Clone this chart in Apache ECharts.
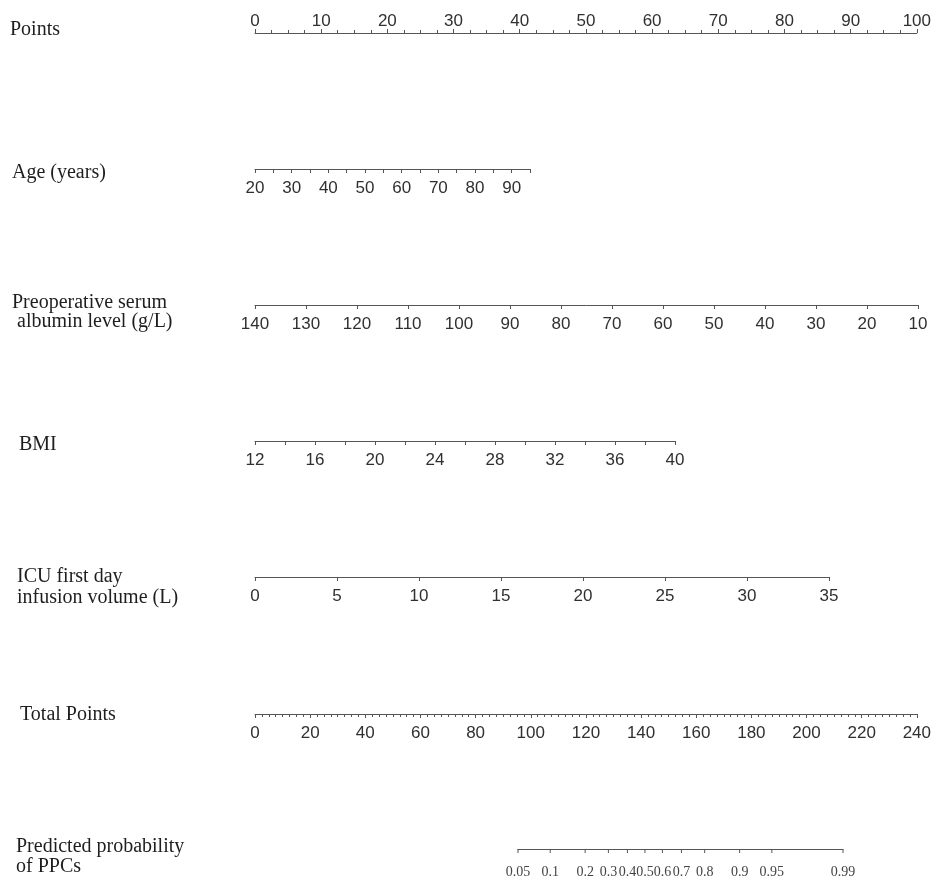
<!DOCTYPE html>
<html>
<head>
<meta charset="utf-8">
<script src="https://cdn.jsdelivr.net/npm/echarts@6/dist/echarts.min.js"></script>
<style>
  html, body { margin: 0; padding: 0; background: #ffffff; }
  #chart { width: 934px; height: 879px; }
</style>
</head>
<body>
<div id="chart"></div>
<script>
// ---- Nomogram scales ----
const pointsRange = [0, 100];
const pointsLabels = [0, 10, 20, 30, 40, 50, 60, 70, 80, 90, 100];

const ageRange = [20, 95];
const ageLabels = [20, 30, 40, 50, 60, 70, 80, 90];

const albuminRange = [10, 140];
const albuminLabels = [140, 130, 120, 110, 100, 90, 80, 70, 60, 50, 40, 30, 20, 10];

const bmiRange = [12, 40];
const bmiLabels = [12, 16, 20, 24, 28, 32, 36, 40];

const infusionRange = [0, 35];
const infusionLabels = [0, 5, 10, 15, 20, 25, 30, 35];

const totalPointsRange = [0, 240];
const totalPointsLabels = [0, 20, 40, 60, 80, 100, 120, 140, 160, 180, 200, 220, 240];

const probValues = [0.05, 0.1, 0.2, 0.3, 0.4, 0.5, 0.6, 0.7, 0.8, 0.9, 0.95, 0.99];
const probLabels = ['0.05', '0.1', '0.2', '0.3', '0.4', '0.5', '0.6', '0.7', '0.8', '0.9', '0.95', '0.99'];

const rowTitles = [
  'Points',
  'Age (years)',
  'Preoperative serum',
  ' albumin level (g/L)',
  'BMI',
  'ICU first day',
  'infusion volume (L)',
  'Total Points',
  'Predicted probability',
  'of PPCs'
];

// ---- Styling ----
const AXIS = '#555555';
const LABEL = '#303030';
const TITLE = '#1e1e1e';
const SANS = '"Liberation Sans", Arial, Helvetica, sans-serif';
const SERIF = '"Liberation Serif", "Times New Roman", serif';
const LABEL_SIZE = 17;
const TITLE_SIZE = 20;

const logit = p => Math.log(p / (1 - p));

// One thin grid per row; the axis line sits on the grid edge
function rowGrid(left, width, lineY, top) {
  return top
    ? { left: left, width: width, top: lineY, height: 1 }
    : { left: left, width: width, top: lineY - 1, height: 1 };
}

function scaleAxis(gridIndex, range, interval, labels, extra) {
  return Object.assign({
    type: 'value',
    gridIndex: gridIndex,
    min: range[0],
    max: range[1],
    interval: interval,
    position: 'bottom',
    axisLine: { show: true, onZero: false, lineStyle: { color: AXIS, width: 1 } },
    axisTick: { show: true, length: 4, lineStyle: { color: AXIS, width: 1 } },
    axisLabel: {
      show: true, margin: 11, color: LABEL, fontSize: LABEL_SIZE, fontFamily: SANS,
      showMinLabel: true, showMaxLabel: true,
      formatter: v => labels.includes(v) ? String(v) : ''
    },
    splitLine: { show: false }
  }, extra || {});
}

const grids = [
  rowGrid(255, 663, 33, true),   // Points
  rowGrid(255, 275, 169),        // Age
  rowGrid(255, 663, 305),        // Albumin
  rowGrid(255, 420, 441),        // BMI
  rowGrid(255, 574, 577),        // ICU infusion volume
  rowGrid(255, 663, 714),        // Total points
  rowGrid(518, 325, 849)         // Predicted probability
];

const xAxes = [
  scaleAxis(0, pointsRange, 10, pointsLabels, {
    position: 'top',
    axisLabel: {
      show: true, margin: 3, color: LABEL, fontSize: LABEL_SIZE, fontFamily: SANS,
      formatter: v => pointsLabels.includes(v) ? String(v) : ''
    },
    minorTick: { show: true, splitNumber: 4, length: 3, lineStyle: { color: AXIS } }
  }),
  scaleAxis(1, ageRange, 5, ageLabels),
  scaleAxis(2, albuminRange, 10, albuminLabels, { inverse: true }),
  scaleAxis(3, bmiRange, 2, bmiLabels),
  scaleAxis(4, infusionRange, 5, infusionLabels),
  scaleAxis(5, totalPointsRange, 20, totalPointsLabels, {
    minorTick: { show: true, splitNumber: 8, length: 3, lineStyle: { color: AXIS } }
  }),
  {
    type: 'value', gridIndex: 6,
    min: logit(probValues[0]), max: logit(probValues[probValues.length - 1]),
    axisLine: { show: true, onZero: false, lineStyle: { color: AXIS, width: 1 } },
    axisTick: { show: false },
    axisLabel: { show: false },
    splitLine: { show: false }
  }
];

const yAxes = grids.map((g, i) => ({ type: 'value', gridIndex: i, min: 0, max: 1, show: false }));

// Title positions (left column): x and visual centre line
const titlePos = [
  { x: 10, y: 28 },
  { x: 12, y: 171 },
  { x: 12, y: 301 },
  { x: 12, y: 320 },
  { x: 19, y: 443 },
  { x: 17, y: 575 },
  { x: 17, y: 596 },
  { x: 20, y: 713 },
  { x: 16, y: 845 },
  { x: 16, y: 865 }
];

const option = {
  backgroundColor: '#ffffff',
  animation: false,
  grid: grids,
  xAxis: xAxes,
  yAxis: yAxes,
  graphic: rowTitles.map((t, i) => ({
    type: 'text',
    left: titlePos[i].x,
    top: titlePos[i].y - 8,
    style: {
      text: t,
      fill: TITLE,
      fontSize: TITLE_SIZE,
      fontFamily: SERIF,
      verticalAlign: 'top'
    }
  })),
  series: [
    {
      // Probability scale: ticks and labels placed on the logit axis
      type: 'custom',
      xAxisIndex: 6,
      yAxisIndex: 6,
      silent: true,
      clip: false,
      data: probValues.map(p => [logit(p), 0]),
      renderItem: function (params, api) {
        const pt = api.coord([api.value(0), 0]);
        return {
          type: 'group',
          children: [
            {
              type: 'line',
              shape: { x1: pt[0], y1: pt[1], x2: pt[0], y2: pt[1] + 4 },
              style: { stroke: AXIS, lineWidth: 1 }
            },
            {
              type: 'text',
              style: {
                text: probLabels[params.dataIndex],
                x: pt[0], y: pt[1] + 23,
                align: 'center', verticalAlign: 'middle',
                fontSize: 14, fontFamily: SERIF, fill: '#444444'
              }
            }
          ]
        };
      }
    }
  ]
};

const chart = echarts.init(document.getElementById('chart'), null, { renderer: 'canvas' });
chart.setOption(option);
</script>
</body>
</html>
